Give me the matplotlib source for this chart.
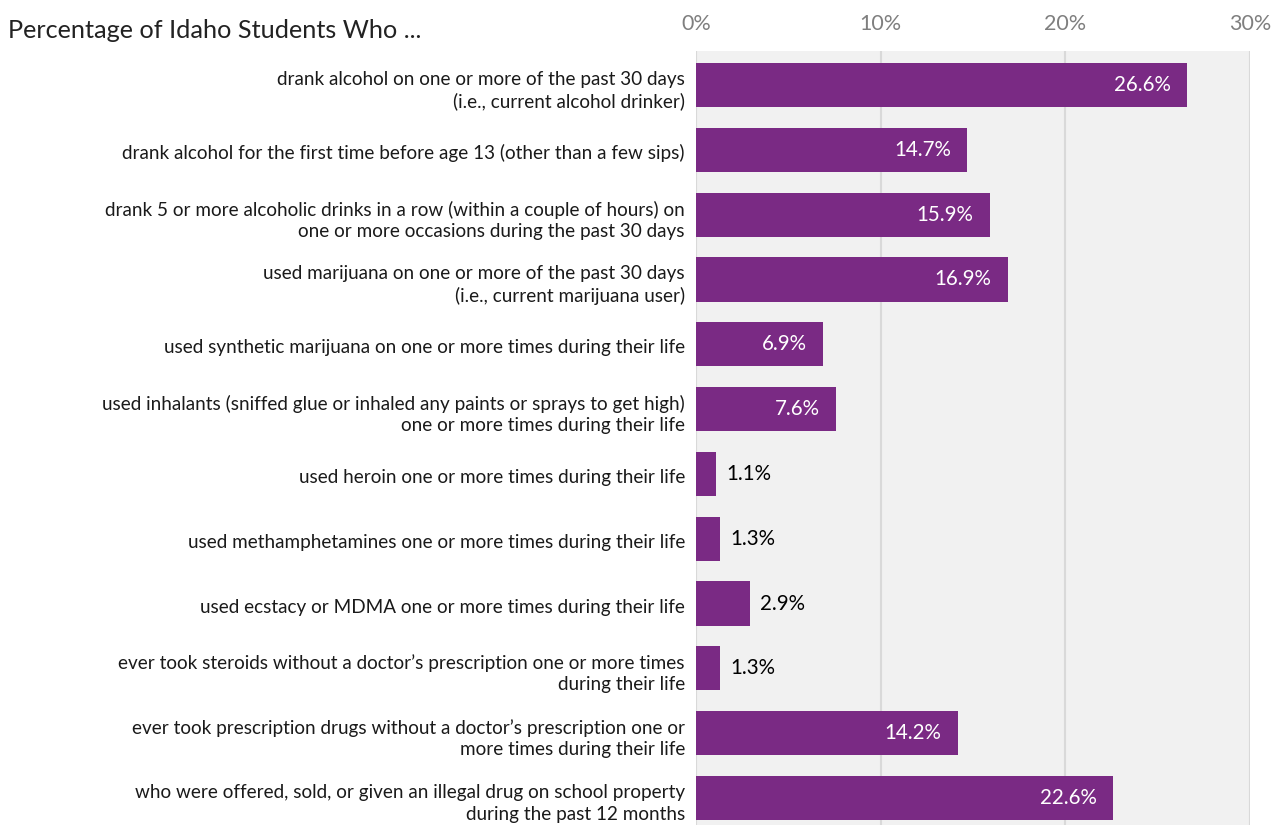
import matplotlib
matplotlib.use("Agg")
import matplotlib.pyplot as plt
from matplotlib.ticker import FuncFormatter
import matplotlib.transforms as mtransforms

categories = [
    "drank alcohol on one or more of the past 30 days\n(i.e., current alcohol drinker)",
    "drank alcohol for the first time before age 13 (other than a few sips)",
    "drank 5 or more alcoholic drinks in a row (within a couple of hours) on\none or more occasions during the past 30 days",
    "used marijuana on one or more of the past 30 days\n(i.e., current marijuana user)",
    "used synthetic marijuana on one or more times during their life",
    "used inhalants (sniffed glue or inhaled any paints or sprays to get high)\none or more times during their life",
    "used heroin one or more times during their life",
    "used methamphetamines one or more times during their life",
    "used ecstacy or MDMA one or more times during their life",
    "ever took steroids without a doctor\u2019s prescription one or more times\nduring their life",
    "ever took prescription drugs without a doctor\u2019s prescription one or\nmore times during their life",
    "who were offered, sold, or given an illegal drug on school property\nduring the past 12 months",
]
values = [26.6, 14.7, 15.9, 16.9, 6.9, 7.6, 1.1, 1.3, 2.9, 1.3, 14.2, 22.6]
x_ticks = [0, 10, 20, 30]
title = "Percentage of Idaho Students Who ..."

plt.rcParams['font.family'] = ['Lato', 'DejaVu Sans']

W, H = 1280, 825
fig = plt.figure(figsize=(W / 100, H / 100), dpi=100)
left, right, top, bottom = 696, 1250, 51, 825
ax = fig.add_axes([left / W, 1 - bottom / H, (right - left) / W, (bottom - top) / H])
ax.set_facecolor("#f1f1f1")

y = list(range(len(values)))
ax.barh(y, values, height=0.68, color="#7a2a84", zorder=3)
ax.set_xlim(0, 30)
ax.set_ylim(11.417, -0.525)

ax.set_xticks(x_ticks)
ax.xaxis.set_major_formatter(FuncFormatter(lambda v, p: f"{v:.0f}%"))
ax.xaxis.tick_top()
ax.tick_params(axis="x", length=0, pad=12, labelsize=15.5, labelcolor="#7f7f7f")
ax.grid(axis="x", color="#d9d9d9", linewidth=1.5, zorder=1)
for s in ax.spines.values():
    s.set_visible(False)

ax.set_yticks(y)
ax.set_yticklabels(categories, fontsize=13.6, color="#1a1a1a", linespacing=1.3)
ax.tick_params(axis="y", length=0, pad=8)
shift = mtransforms.ScaledTranslation(0, -2 / 100, fig.dpi_scale_trans)
for lbl in ax.get_yticklabels():
    lbl.set_transform(lbl.get_transform() + shift)

for yi, v in zip(y, values):
    if v >= 5:
        ax.text(v - 0.9, yi, f"{v:.1f}%", ha="right", va="center", color="white",
                fontsize=14.8, zorder=4)
    else:
        ax.text(v + 0.55, yi, f"{v:.1f}%", ha="left", va="center", color="black",
                fontsize=14.8, zorder=4)

fig.text(8 / W, 1 - 30 / H, title, fontsize=18.2, color="#222222", ha="left", va="center")

fig.savefig("out.png", dpi=100)
